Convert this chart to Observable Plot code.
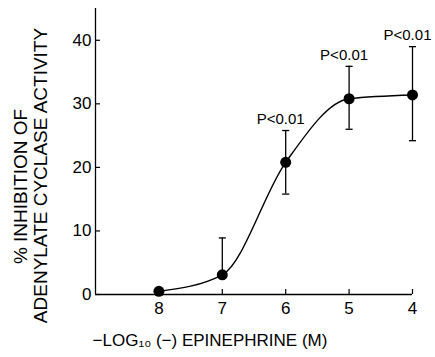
<!DOCTYPE html>
<html>
<head>
<meta charset="utf-8">
<script src="https://cdn.jsdelivr.net/npm/d3@7"></script>
<script src="https://cdn.jsdelivr.net/npm/@observablehq/plot@0.6"></script>
<style>
  html, body { margin: 0; padding: 0; background: #fff; }
  #chart svg { display: block; background: #fff; }
</style>
</head>
<body>
<div id="chart"></div>
<script>
// ---- data ----
const logConc   = [8, 7, 6, 5, 4];                 // -log10 (-) epinephrine (M)
const inhibition = [0.5, 3.1, 20.8, 30.8, 31.4];   // % inhibition
const errHigh   = [null, 8.9, 25.8, 35.9, 39.0];
const errLow    = [null, null, 15.8, 26.0, 24.2];
const pLabels   = [null, null, "P<0.01", "P<0.01", "P<0.01"];
const xTicks = [8, 7, 6, 5, 4];
const yTicks = [0, 10, 20, 30, 40];
const xLabel = "\u2212LOG\u2081\u2080 (\u2212) EPINEPHRINE (M)";
const yLabel1 = "% INHIBITION OF";
const yLabel2 = "ADENYLATE CYCLASE ACTIVITY";

const rows = logConc.map((x, i) => ({
  x, y: inhibition[i], hi: errHigh[i], lo: errLow[i], label: pLabels[i]
}));
const withHi = rows.filter(d => d.hi != null);
const withLo = rows.filter(d => d.lo != null);
const withLabel = rows.filter(d => d.label != null);

const capSymbol = {
  draw(context, size) {
    const w = Math.sqrt(size);
    context.moveTo(-w, 0);
    context.lineTo(w, 0);
  }
};

const W = 435, H = 357;
const mL = 95, mR = 23, mT = 8, mB = 63;
const font = "'Liberation Sans', Arial, Helvetica, sans-serif";

const chart = Plot.plot({
  width: W, height: H,
  marginLeft: mL, marginRight: mR, marginTop: mT, marginBottom: mB,
  style: { fontFamily: font, background: "#fff", color: "#000", overflow: "visible" },
  x: { domain: [9, 4], axis: null },
  y: { domain: [0, 45], axis: null },
  marks: [
    // axis lines
    Plot.ruleY([0], { stroke: "#000", strokeWidth: 1.3 }),
    Plot.ruleX([9], { stroke: "#000", strokeWidth: 1.3 }),
    // inward ticks
    Plot.tickX(xTicks, { x: d => d, stroke: "#000", strokeWidth: 1.2, insetTop: (H - mT - mB) - 5 }),
    Plot.tickY(yTicks, { y: d => d, stroke: "#000", strokeWidth: 1.2, insetRight: (W - mL - mR) - 5 }),
    // tick labels
    Plot.axisX({ ticks: xTicks, tickSize: 0, tickPadding: 7, fontSize: 17, label: null, tickFormat: d => String(d) }),
    Plot.axisY({ ticks: yTicks, tickSize: 0, tickPadding: 4, fontSize: 17, label: null, tickFormat: d => String(d) }),
    // error bars
    Plot.ruleX(withHi, { x: "x", y1: d => d.lo ?? d.y, y2: "hi", stroke: "#000", strokeWidth: 1.3 }),
    Plot.dot(withHi, { x: "x", y: "hi", symbol: capSymbol, r: 2, stroke: "#000", strokeWidth: 1.3, fill: "none" }),
    Plot.dot(withLo, { x: "x", y: "lo", symbol: capSymbol, r: 2, stroke: "#000", strokeWidth: 1.3, fill: "none" }),
    // fitted curve
    Plot.line(rows, { x: "x", y: "y", curve: "monotone-x", stroke: "#000", strokeWidth: 1.4 }),
    // points
    Plot.dot(rows, { x: "x", y: "y", r: 5.5, fill: "#000", stroke: "none" }),
    // significance labels
    Plot.text(withLabel, { x: "x", y: "hi", text: "label", dx: -5, dy: -11, fontSize: 15, fill: "#000" }),
    // axis titles
    Plot.text([xLabel], { frameAnchor: "bottom", text: d => d, textAnchor: "middle", lineAnchor: "middle", dx: -44, dy: 46, fontSize: 17, fill: "#000" }),
    Plot.text([yLabel1], { frameAnchor: "left", text: d => d, textAnchor: "middle", lineAnchor: "middle", rotate: -90, dx: -75, dy: 35, fontSize: 19, fill: "#000" }),
    Plot.text([yLabel2], { frameAnchor: "left", text: d => d, textAnchor: "middle", lineAnchor: "middle", rotate: -90, dx: -55, dy: 24, fontSize: 19, fill: "#000" })
  ]
});
document.getElementById("chart").appendChild(chart);
</script>
</body>
</html>
